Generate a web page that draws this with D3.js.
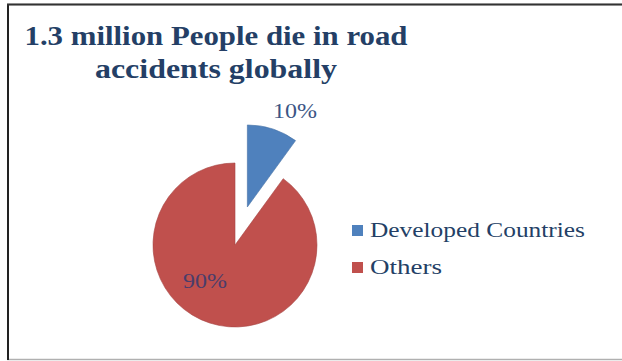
<!DOCTYPE html>
<html lang="en">
  <head>
    <meta charset="UTF-8" />
    <title>road accidents</title>
    <style>
      body { margin: 0; background: #fff; }
      text { font-family: "Liberation Serif", "DejaVu Serif", serif; }
    </style>
  </head>
  <body>
    <div id="chart"></div>
    <script src="https://d3js.org/d3.v7.min.js"></script>
    <script>
      // data
      var categories = ["Developed Countries", "Others"];
      var values = [10, 90];
      var sliceLabels = ["10%", "90%"];
      var titleLines = ["1.3 million People die in road", "accidents globally"];

      var width = 622, height = 361;
      var color = d3.scaleOrdinal().domain(categories).range(["#4f81bd", "#c0504d"]);

      var svg = d3.select("#chart").append("svg")
        .attr("width", width)
        .attr("height", height);

      // frame
      svg.append("rect")
        .attr("x", 8).attr("y", 4.5)
        .attr("width", 630).attr("height", 355)
        .attr("fill", "#fff")
        .attr("stroke", "#b0b0b0").attr("stroke-width", 1.5);
      svg.append("line")
        .attr("x1", 8).attr("x2", 8).attr("y1", 4).attr("y2", 360)
        .attr("stroke", "#222").attr("stroke-width", 2);
      svg.append("line")
        .attr("x1", 7).attr("x2", 622).attr("y1", 4.5).attr("y2", 4.5)
        .attr("stroke", "#333").attr("stroke-width", 2);

      // title (Garamond-like width, stretched to fit)
      var titleWidths = [383, 242];
      svg.selectAll(".title")
        .data(titleLines)
        .enter()
        .append("text")
        .attr("class", "title")
        .attr("x", 216)
        .attr("y", function (d, i) { return 45 + i * 33; })
        .attr("text-anchor", "middle")
        .attr("textLength", function (d, i) { return titleWidths[i]; })
        .attr("lengthAdjust", "spacingAndGlyphs")
        .style("font-size", "28px")
        .style("font-weight", "bold")
        .style("fill", "#243f66")
        .text(function (d) { return d; });

      // pie
      var cx = 235, cy = 245, r = 82, explode = 40;
      var pie = d3.pie().sort(null).value(function (d) { return d.v; });
      var arcs = pie(categories.map(function (c, i) { return { k: c, v: values[i], lab: sliceLabels[i] }; }));
      var arc = d3.arc().innerRadius(0).outerRadius(r);

      var g = svg.append("g").attr("transform", "translate(" + cx + "," + cy + ")");
      function offset(d, i) {
        if (i !== 0) return [0, 0];
        var a = (d.startAngle + d.endAngle) / 2;
        return [Math.sin(a) * explode, -Math.cos(a) * explode];
      }
      g.selectAll("path")
        .data(arcs)
        .enter()
        .append("path")
        .attr("d", arc)
        .attr("transform", function (d, i) { return "translate(" + offset(d, i) + ")"; })
        .attr("fill", function (d) { return color(d.data.k); })
        .attr("stroke", function (d) { return d3.color(color(d.data.k)).darker(0.4); })
        .attr("stroke-width", 0.6);

      // slice labels
      var labelPos = [[60, -127], [-30, 43]];
      g.selectAll(".lab")
        .data(arcs)
        .enter()
        .append("text")
        .attr("class", "lab")
        .attr("x", function (d, i) { return labelPos[i][0]; })
        .attr("y", function (d, i) { return labelPos[i][1]; })
        .attr("text-anchor", "middle")
        .attr("textLength", 44)
        .attr("lengthAdjust", "spacingAndGlyphs")
        .style("font-size", "22px")
        .style("fill", function (d, i) { return i === 0 ? "#3b5585" : "#4a3d6b"; })
        .text(function (d) { return d.data.lab; });

      // legend
      var legendWidths = [215, 72];
      var legend = svg.selectAll(".legend")
        .data(categories)
        .enter()
        .append("g")
        .attr("class", "legend")
        .attr("transform", function (d, i) { return "translate(352," + (225 + i * 37) + ")"; });
      legend.append("rect")
        .attr("width", 11).attr("height", 11)
        .attr("fill", color);
      legend.append("text")
        .attr("x", 18).attr("y", 12)
        .attr("textLength", function (d, i) { return legendWidths[i]; })
        .attr("lengthAdjust", "spacingAndGlyphs")
        .style("font-size", "22px")
        .style("fill", "#243f66")
        .text(function (d) { return d; });
    </script>
  </body>
</html>
